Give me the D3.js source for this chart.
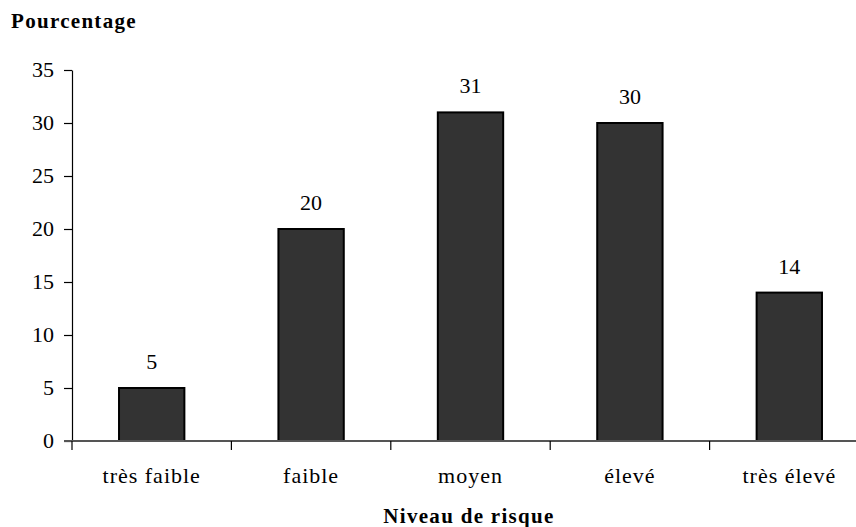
<!DOCTYPE html>
<html>
<head>
<meta charset="utf-8">
<script src="https://cdn.jsdelivr.net/npm/d3@7"></script>
<style>
  html, body { margin: 0; padding: 0; background: #fff; }
  svg { display: block; }
  svg text { font-family: "Liberation Serif", "Times New Roman", serif; fill: #000; }
</style>
</head>
<body>
<svg id="chart" width="856" height="527"></svg>
<script>
// Répartition par niveau de risque (%)
const categories = ["très faible", "faible", "moyen", "élevé", "très élevé"];
const values = [5, 20, 31, 30, 14];
const yTicks = [0, 5, 10, 15, 20, 25, 30, 35];

const svg = d3.select("#chart");
const plotLeft = 72, plotRight = 869, plotTop = 70, plotBottom = 441;
const labelSize = 22;

const x = d3.scaleBand().domain(categories).range([plotLeft, plotRight]).paddingInner(0).paddingOuter(0);
const y = d3.scaleLinear().domain([0, 35]).range([plotBottom, plotTop]);
const barW = x.bandwidth() * 0.41;

// Barres
svg.append("g").selectAll("rect").data(values).join("rect")
  .attr("x", (d, i) => x(categories[i]) + (x.bandwidth() - barW) / 2)
  .attr("y", d => y(d))
  .attr("width", barW)
  .attr("height", d => y(0) - y(d))
  .attr("fill", "#333333")
  .attr("stroke", "#000")
  .attr("stroke-width", 2);

// Étiquettes de valeur
svg.append("g").selectAll("text").data(values).join("text")
  .attr("x", (d, i) => x(categories[i]) + x.bandwidth() / 2)
  .attr("y", d => y(d) - 19)
  .attr("text-anchor", "middle")
  .style("font-size", labelSize + "px")
  .text(d => d);

// Axe Y
const yAxis = svg.append("g").attr("transform", `translate(${plotLeft},0)`)
  .call(d3.axisLeft(y).tickValues(yTicks).tickSize(8).tickPadding(10).tickSizeOuter(0));
yAxis.attr("font-family", null).attr("font-size", null);
yAxis.select(".domain").attr("stroke", "#000").attr("stroke-width", 1.2);
yAxis.selectAll(".tick line").attr("stroke", "#000").attr("stroke-width", 1.2);
yAxis.selectAll(".tick text").style("font-size", labelSize + "px").attr("dy", "0.3em");

// Axe X
const xAxis = svg.append("g").attr("transform", `translate(0,${plotBottom})`)
  .call(d3.axisBottom(x).tickSize(0).tickPadding(0));
xAxis.attr("font-family", null).attr("font-size", null);
xAxis.select(".domain").remove();
xAxis.selectAll(".tick text").style("font-size", labelSize + "px")
  .style("letter-spacing", "1px")
  .attr("dy", null).attr("y", 42);
svg.append("line")
  .attr("x1", plotLeft - 8).attr("x2", 856)
  .attr("y1", plotBottom).attr("y2", plotBottom)
  .attr("stroke", "#555").attr("stroke-width", 2);
// Graduations entre catégories
svg.append("g").selectAll("line").data(categories).join("line")
  .attr("x1", d => x(d)).attr("x2", d => x(d))
  .attr("y1", plotBottom).attr("y2", plotBottom + 9)
  .attr("stroke", "#000").attr("stroke-width", 1.2);

// Titres des axes
svg.append("text").attr("x", 11).attr("y", 28)
  .style("font-size", "21px").style("font-weight", "bold").style("letter-spacing", "1.3px")
  .text("Pourcentage");
svg.append("text").attr("x", 469).attr("y", 523)
  .attr("text-anchor", "middle")
  .style("font-size", "21px").style("font-weight", "bold").style("letter-spacing", "1.3px")
  .text("Niveau de risque");
</script>
</body>
</html>
